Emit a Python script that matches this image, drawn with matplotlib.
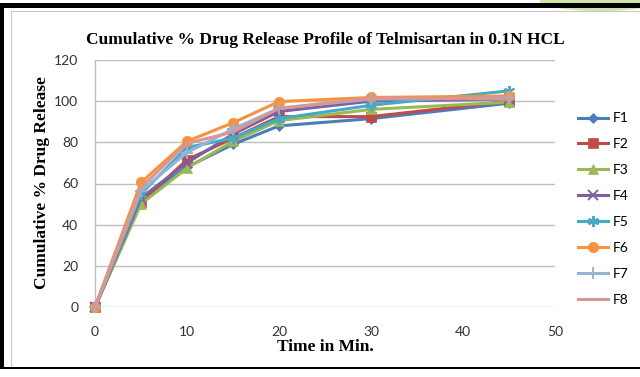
import matplotlib
matplotlib.use("Agg")
import matplotlib.pyplot as plt
from matplotlib.patches import Rectangle, Ellipse
from matplotlib.lines import Line2D

# Dissolution time points (min)
time_min = [0, 5, 10, 15, 20, 30, 45]

# Cumulative % drug release for each formulation
F1 = [0, 52, 68, 79, 88, 91.5, 99]
F2 = [0, 51, 71.5, 82, 92.5, 92.5, 100]
F3 = [0, 50, 67.5, 80.5, 90.5, 96, 99.5]
F4 = [0, 53, 70, 84, 95, 100, 101]
F5 = [0, 55, 77.5, 82, 91.5, 98, 105]
F6 = [0, 60.5, 80.5, 89.5, 99.8, 101.8, 102.5]
F7 = [0, 56.5, 75, 86.5, 96.5, 101, 101.5]
F8 = [0, 58, 79.5, 85, 96.5, 101.5, 101]

series_names = ["F1", "F2", "F3", "F4", "F5", "F6", "F7", "F8"]
series_values = [F1, F2, F3, F4, F5, F6, F7, F8]
colors = ["#4A7EBB", "#BE4B48", "#98B954", "#7D60A0",
          "#46AAC5", "#F69240", "#95B3D7", "#D99694"]
markers = ["D", "s", "^", "x", (6, 2, 0), "o", "+", None]
msizes = [5, 6.5, 6.5, 7, 8, 7.5, 8, 0]

title = "Cumulative % Drug Release Profile of Telmisartan in 0.1N HCL"
xlabel = "Time in Min."
ylabel = "Cumulative % Drug Release"
xticks = [0, 10, 20, 30, 40, 50]
yticks = [0, 20, 40, 60, 80, 100, 120]

W, H = 640, 377
fig = plt.figure(figsize=(W / 100, H / 100), dpi=100)
fig.patch.set_facecolor("white")

# outer frame
fig.add_artist(Ellipse((600 / W, (H - 1) / H), 120 / W, 20 / H, transform=fig.transFigure,
                       facecolor="#CFE3A8", edgecolor="none", zorder=1))
fig.add_artist(Rectangle((0, (H - 8) / H), 1, 5 / H, transform=fig.transFigure,
                         facecolor="black", edgecolor="none", zorder=2))
fig.add_artist(Rectangle((0, 0), 4 / W, (H - 3) / H, transform=fig.transFigure,
                         facecolor="black", edgecolor="none"))
fig.add_artist(Rectangle((0, (H - 369) / H), 1, 2 / H, transform=fig.transFigure,
                         facecolor="black", edgecolor="none"))
fig.add_artist(Rectangle((0, 0), 1, (H - 369) / H, transform=fig.transFigure,
                         facecolor="white", edgecolor="none"))
fig.add_artist(Line2D([11 / W, 11 / W], [(H - 366) / H, (H - 11) / H],
                      transform=fig.transFigure, color="#C8C8C8", lw=0.8))
fig.add_artist(Line2D([11 / W, 1], [(H - 11) / H, (H - 11) / H],
                      transform=fig.transFigure, color="#C8C8C8", lw=0.8))

ax = fig.add_axes([95 / W, (H - 307) / H, 460 / W, 247 / H])

for name, vals, c, m, ms in zip(series_names, series_values, colors, markers, msizes):
    ax.plot(time_min, vals, color=c, lw=2.2, marker=m, markersize=ms,
            markeredgewidth=1.4 if m in ("x", "+", (6, 2, 0)) else 0.5,
            markeredgecolor=c, markerfacecolor=c, label=name, zorder=3,
            solid_joinstyle="round", clip_on=False)

ax.set_xlim(0, 50)
ax.set_ylim(0, 120)
ax.set_xticks(xticks)
ax.set_yticks(yticks)
ax.tick_params(axis="x", length=0, labelsize=10, labelcolor="#333333", pad=14)
ax.tick_params(axis="y", length=0, labelsize=10, labelcolor="#333333", pad=12)
for lab in ax.get_xticklabels() + ax.get_yticklabels():
    lab.set_family(["Lato", "DejaVu Sans"])
ax.yaxis.grid(True, color="#BEBEBE", lw=1)
ax.set_axisbelow(True)
for s in ["top", "right", "bottom"]:
    ax.spines[s].set_visible(False)
ax.spines["left"].set_color("#BEBEBE")
ax.spines["left"].set_linewidth(1)

serif = ["Liberation Serif", "DejaVu Serif"]
fig.text(325 / W, (H - 40) / H, title, ha="center", va="center",
         fontsize=12.5, fontweight="bold", family=serif)
fig.text(325 / W, (H - 347) / H, xlabel, ha="center", va="center",
         fontsize=12.5, fontweight="bold", family=serif)
fig.text(42 / W, (H - 183) / H, ylabel, ha="center", va="center", rotation=90,
         fontsize=12.5, fontweight="bold", family=serif)

leg = ax.legend(loc="center left", bbox_to_anchor=(572 / W, (H - 209) / H),
                bbox_transform=fig.transFigure, frameon=False, handlelength=2.2,
                handletextpad=0.3, labelspacing=1.0,
                prop={"family": ["Lato", "DejaVu Sans"], "size": 10},
                borderaxespad=0)

fig.savefig("out.png", dpi=100)
